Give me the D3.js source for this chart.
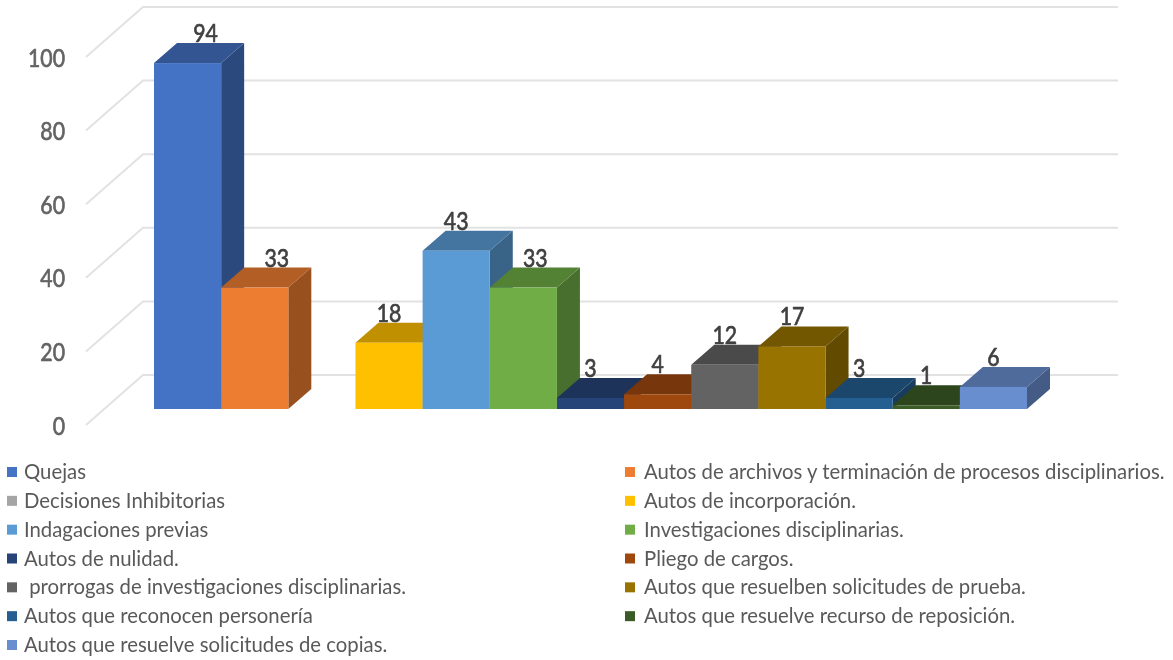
<!DOCTYPE html>
<html>
<head>
<meta charset="utf-8">
<script src="https://cdn.jsdelivr.net/npm/d3@7"></script>
<style>
html,body{margin:0;padding:0;background:#fff}
svg{display:block;filter:blur(0.7px)}
text{font-family:"Lato","Liberation Sans",sans-serif}
</style>
</head>
<body>
<svg id="c" width="1173" height="660"></svg>
<script>
const categories = ["Quejas","Autos de archivos y terminación de procesos disciplinarios.","Decisiones Inhibitorias","Autos de incorporación.","Indagaciones previas","Investigaciones disciplinarias.","Autos de nulidad.","Pliego de cargos."," prorrogas de investigaciones disciplinarias.","Autos que resuelben solicitudes de prueba.","Autos que reconocen personería","Autos que resuelve recurso de reposición.","Autos que resuelve solicitudes de copias."];
const values = [94,33,0,18,43,33,3,4,12,17,3,1,6];
const colors = ["#4472c4","#ed7d31","#a5a5a5","#ffc000","#5b9bd5","#70ad47","#264478","#9e480e","#636363","#997300","#255e91","#3b5c27","#698ed0"];
const yTicks = [0,20,40,60,80,100];

const svg = d3.select("#c");
const depthX = 23, depthY = 20;
const x = d3.scaleBand().domain(categories).range([154,1027]).padding(0);
const y = d3.scaleLinear().domain([0,100]).range([409,41]);
const wallRight = 1118, wallLeft = x.range()[0] - 68 + 57;

// gridlines: floor-side slant plus back wall
const grid = svg.append("g").attr("stroke","#e2e2e2").attr("stroke-width",2).attr("fill","none");
yTicks.forEach(t=>{
  const yb = y(t) - 34;
  grid.append("path").attr("d",`M${wallLeft-57},${yb+50}L${wallLeft},${yb}L${wallRight},${yb}`);
});

// y labels
svg.append("g").selectAll("text").data(yTicks).join("text")
  .attr("transform",t=>`translate(65,${y(t)+25.5}) scale(0.85,1)`)
  .attr("text-anchor","end")
  .attr("font-size",25).attr("fill","#636363").attr("stroke","#636363").attr("stroke-width",0.7)
  .text(d=>d);

const shade = (c,k)=>d3.rgb(c).darker(k).formatHex();

// bars
const bars = svg.append("g");
categories.forEach((cat,i)=>{
  const v = values[i]; if(!v) return;
  const x0 = x(cat), w = x.bandwidth(), yt = y(v), yb = y(0);
  const g = bars.append("g");
  g.append("path").attr("fill",shade(colors[i],1.25))
    .attr("d",`M${x0+w},${yt}L${x0+w+depthX},${yt-depthY}L${x0+w+depthX},${yb-depthY}L${x0+w},${yb}Z`);
  g.append("path").attr("fill",shade(colors[i],0.8))
    .attr("d",`M${x0},${yt}L${x0+depthX},${yt-depthY}L${x0+w+depthX},${yt-depthY}L${x0+w},${yt}Z`);
  g.append("rect").attr("x",x0).attr("y",yt).attr("width",w).attr("height",yb-yt).attr("fill",colors[i]);
});

// value labels
const labelShift = {0:18,1:22,5:12};
svg.append("g").selectAll("text").data(categories.map((c,i)=>({c,i,v:values[i]})).filter(d=>d.v>0)).join("text")
  .attr("transform",d=>`translate(${x(d.c)+x.bandwidth()/2+(labelShift[d.i]||0)},${y(d.v)-depthY-1}) scale(0.85,1)`)
  .attr("text-anchor","middle").attr("font-size",25).attr("fill","#404040").attr("stroke","#404040").attr("stroke-width",0.7)
  .text(d=>d.v);

// legend
const legendRow = d3.scalePoint().domain(d3.range(7)).range([472,645]);
const legend = svg.append("g").selectAll("g").data(categories).join("g")
  .attr("transform",(d,i)=>`translate(${i%2?625:7},${legendRow(Math.floor(i/2))})`);
legend.append("rect").attr("x",0).attr("y",-5).attr("width",10).attr("height",10).attr("fill",(d,i)=>colors[i]);
legend.append("text").attr("transform",(d,i)=>`translate(${i%2?19:17},7) scale(0.968,1)`).attr("font-size",21).attr("fill","#595959")
  .attr("xml:space","preserve").style("white-space","pre").text(d=>d);
</script>
</body>
</html>
